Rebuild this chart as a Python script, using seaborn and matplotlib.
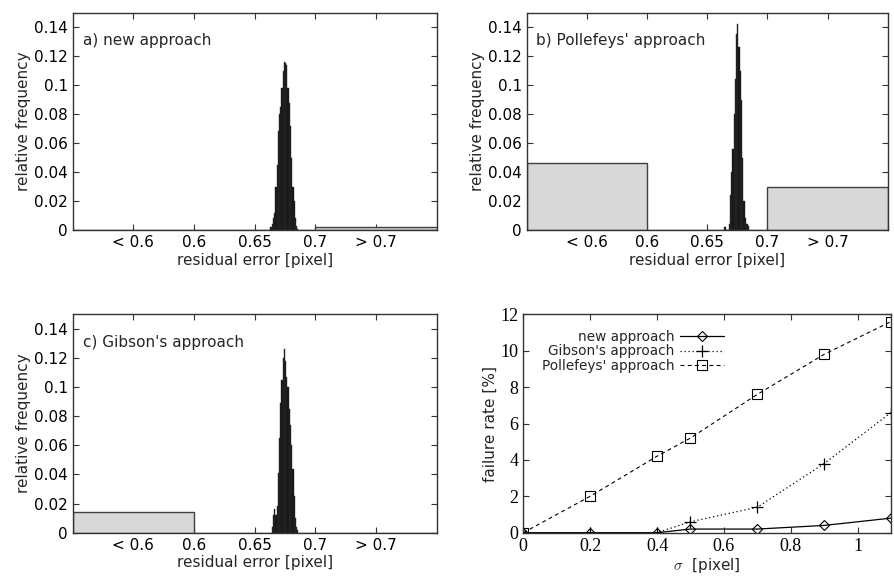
import numpy as np
import pandas as pd
import matplotlib
matplotlib.use("Agg")
import matplotlib.pyplot as plt
import seaborn as sns

# histogram data: fine bins of width 0.001 (left edges) plus two overflow bins
peak_a_start = 0.662
peak_a = [0.000, 0.002, 0.004, 0.008, 0.012, 0.030, 0.045, 0.068, 0.080, 0.085,
          0.098, 0.110, 0.116, 0.115, 0.114, 0.098, 0.088, 0.072, 0.050, 0.030,
          0.020, 0.008, 0.003, 0.001]
outer_a = [0.0, 0.002]  # < 0.6, > 0.7

peak_b_start = 0.664
peak_b = [0.002, 0.002, 0.000, 0.000, 0.004, 0.024, 0.040, 0.056, 0.080, 0.104,
          0.135, 0.142, 0.126, 0.110, 0.090, 0.050, 0.020, 0.008, 0.004, 0.004, 0.003]
outer_b = [0.046, 0.030]

peak_c_start = 0.664
peak_c = [0.004, 0.012, 0.016, 0.012, 0.018, 0.041, 0.065, 0.089, 0.105, 0.120,
          0.126, 0.118, 0.107, 0.100, 0.085, 0.074, 0.060, 0.044, 0.025, 0.010,
          0.004, 0.002]
outer_c = [0.014, 0.0]

hist_xticks = [0.55, 0.6, 0.65, 0.7, 0.75]
hist_xticklabels = ["< 0.6", "0.6", "0.65", "0.7", "> 0.7"]
hist_yticks = [0, 0.02, 0.04, 0.06, 0.08, 0.1, 0.12, 0.14]
hist_yticklabels = ["0", "0.02", "0.04", "0.06", "0.08", "0.1", "0.12", "0.14"]

# failure rate data
sigma = [0, 0.2, 0.4, 0.5, 0.7, 0.9, 1.1]
fail_new = [0, 0, 0, 0.2, 0.2, 0.4, 0.8]
fail_gibson = [0, 0, 0, 0.6, 1.4, 3.8, 6.6]
fail_pollefeys = [0, 2.0, 4.2, 5.2, 7.6, 9.8, 11.6]

sns.set_style("ticks")
plt.rcParams["font.family"] = ["DejaVu Sans"]
plt.rcParams["mathtext.fontset"] = "cm"

W, H = 895, 579
fig = plt.figure(figsize=(W / 100, H / 100), dpi=100)


def px_axes(l, r, t, b):
    return fig.add_axes([l / W, (H - b) / H, (r - l) / W, (b - t) / H])


def style_axes(ax):
    for s in ax.spines.values():
        s.set_color("#333333")
        s.set_linewidth(1.0)
    ax.tick_params(direction="in", length=4.5, width=0.8, top=True, right=True,
                   colors="#333333", labelcolor="black", labelsize=11)


def histo(ax, start, peak, outer, label):
    edges = [round(start + 0.001 * i, 4) for i in range(len(peak) + 1)]
    centers = [(edges[i] + edges[i + 1]) / 2 for i in range(len(peak))]
    sns.histplot(x=[0.55, 0.65, 0.75], weights=[outer[0], 0, outer[1]],
                 bins=[0.5, 0.6, 0.7, 0.8], color="#d8d8d8", alpha=1,
                 edgecolor="#404040", linewidth=1.0, ax=ax)
    sns.histplot(x=centers, weights=peak, bins=edges, color="#111111", alpha=1,
                 edgecolor="#2e2e2e", linewidth=0.3, ax=ax)
    ax.set_xlim(0.5, 0.8)
    ax.set_ylim(0, 0.15)
    ax.set_xticks(hist_xticks)
    ax.set_xticklabels(hist_xticklabels)
    ax.set_yticks(hist_yticks)
    ax.set_yticklabels(hist_yticklabels)
    ax.set_xlabel("residual error [pixel]", fontsize=11, labelpad=2)
    ax.set_ylabel("relative frequency", fontsize=11, labelpad=2)
    ax.text(0.027, 0.87, label, transform=ax.transAxes, fontsize=11,
            va="center", ha="left")
    style_axes(ax)


ax_a = px_axes(72.7, 436.7, 12.7, 230)
histo(ax_a, peak_a_start, peak_a, outer_a, "a) new approach")

ax_b = px_axes(526.7, 887.7, 12.7, 230)
histo(ax_b, peak_b_start, peak_b, outer_b, "b) Pollefeys' approach")

ax_c = px_axes(72.7, 436.7, 314, 532.7)
histo(ax_c, peak_c_start, peak_c, outer_c, "c) Gibson's approach")

# failure rate panel
ax_d = px_axes(523.3, 891, 314.3, 532.7)
sns.lineplot(x=sigma, y=fail_new, color="black", linewidth=0.9, marker="D",
             markersize=5, markerfacecolor="none", markeredgecolor="black",
             markeredgewidth=0.8, label="new approach", ax=ax_d)
sns.lineplot(x=sigma, y=fail_gibson, color="black", linewidth=0.9,
             linestyle=(0, (1, 2.2)), marker="+", markersize=8,
             markeredgecolor="black", markeredgewidth=0.9,
             label="Gibson's approach", ax=ax_d)
sns.lineplot(x=sigma, y=fail_pollefeys, color="black", linewidth=0.8,
             linestyle=(0, (3.5, 3)), marker="s", markersize=7,
             markerfacecolor="none", markeredgecolor="black",
             markeredgewidth=0.8, label="Pollefeys' approach", ax=ax_d)
ax_d.set_xlim(0, 1.1)
ax_d.set_ylim(0, 12)
ax_d.set_xticks([0, 0.2, 0.4, 0.6, 0.8, 1])
ax_d.set_xticklabels(["0", "0.2", "0.4", "0.6", "0.8", "1"],
                     family="Liberation Serif", fontsize=13)
ax_d.set_yticks([0, 2, 4, 6, 8, 10, 12])
ax_d.set_yticklabels(["0", "2", "4", "6", "8", "10", "12"],
                     family="Liberation Serif", fontsize=13)
ax_d.set_xlabel(r"$\sigma$  [pixel]", fontsize=11, labelpad=1)
ax_d.set_ylabel("failure rate [%]", fontsize=11, labelpad=2)
style_axes(ax_d)
ax_d.tick_params(labelsize=13)
ax_d.legend(loc="upper right", bbox_to_anchor=(0.545, 0.93), frameon=False,
            markerfirst=False, fontsize=9.8, handlelength=3.2,
            handletextpad=0.4, labelspacing=0.05, borderpad=0,
            borderaxespad=0)

fig.savefig("out.png", dpi=100)
